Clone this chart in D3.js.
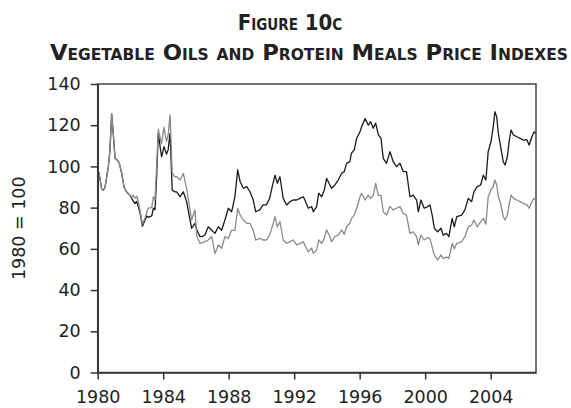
<!DOCTYPE html>
<meta charset="utf-8">
<style>
body { margin: 0; background: #fff; }
.axis text { font-family: "DejaVu Sans", sans-serif; font-size: 17.5px; fill: #222; }
.axis path, .axis line { stroke: #333; stroke-width: 1.5px; }
.title { font-family: "DejaVu Sans Condensed", "Liberation Sans Narrow", sans-serif; font-weight: bold; font-variant: small-caps; fill: #222; }
.line { fill: none; stroke-width: 1.3px; stroke-linejoin: round; }
</style>
<body>
<script src="https://cdn.jsdelivr.net/npm/d3@7/dist/d3.min.js"></script>
<script>

// data (decimal years)
var years = [1980.00, 1980.08, 1980.24, 1980.35, 1980.45, 1980.55, 1980.65, 1980.75, 1980.85, 1980.95,
  1981.06, 1981.20, 1981.32, 1981.47, 1981.61, 1981.77, 1981.97, 1982.08, 1982.18, 1982.28,
  1982.38, 1982.48, 1982.60, 1982.73, 1982.89, 1983.00, 1983.09, 1983.30, 1983.40, 1983.50,
  1983.60, 1983.70, 1983.90, 1984.05, 1984.20, 1984.30, 1984.42, 1984.55, 1984.70, 1984.82,
  1985.03, 1985.23, 1985.43, 1985.64, 1985.74, 1985.94, 1986.05, 1986.25, 1986.40, 1986.55,
  1986.75, 1986.96, 1987.16, 1987.37, 1987.57, 1987.77, 1987.98, 1988.18, 1988.38, 1988.55,
  1988.70, 1988.90, 1989.10, 1989.30, 1989.50, 1989.65, 1989.90, 1990.10, 1990.30, 1990.50,
  1990.66, 1990.83, 1990.97, 1991.13, 1991.33, 1991.54, 1991.74, 1991.94, 1992.15, 1992.35,
  1992.56, 1992.70, 1992.86, 1993.07, 1993.17, 1993.37, 1993.50, 1993.68, 1993.84, 1993.98,
  1994.18, 1994.28, 1994.49, 1994.69, 1994.90, 1995.06, 1995.20, 1995.40, 1995.50, 1995.67,
  1995.82, 1996.02, 1996.12, 1996.33, 1996.53, 1996.67, 1996.83, 1996.98, 1997.14, 1997.30,
  1997.44, 1997.64, 1997.85, 1998.05, 1998.25, 1998.46, 1998.66, 1998.86, 1999.07, 1999.27,
  1999.48, 1999.58, 1999.74, 1999.94, 2000.15, 2000.29, 2000.43, 2000.56, 2000.76, 2000.97,
  2001.10, 2001.30, 2001.45, 2001.65, 2001.78, 2001.93, 2002.23, 2002.43, 2002.63, 2002.84,
  2002.98, 2003.18, 2003.39, 2003.55, 2003.71, 2003.85, 2004.02, 2004.16, 2004.26, 2004.37,
  2004.47, 2004.61, 2004.77, 2004.88, 2005.02, 2005.14, 2005.25, 2005.39, 2005.60, 2005.80,
  2006.00, 2006.21, 2006.35, 2006.52, 2006.66, 2006.75];

var vegetableOils = [98, 97, 89, 88.5, 90, 95, 100, 108, 125.5, 116,
  104, 103, 101.5, 96.5, 90, 87.5, 86, 84.5, 83, 82,
  83, 80.5, 77, 71, 74, 76, 75.3, 76, 79.8, 79,
  95, 116, 104.7, 109.6, 106, 108, 116, 88.5, 87.7, 87.7,
  85.3, 87.7, 82.9, 74, 70, 72.4, 69.2, 65.9, 66, 66.7,
  70.7, 69, 67.5, 70.7, 69, 74, 79.7, 78, 85.3, 98.3,
  92.6, 89.4, 90.2, 87.7, 83.7, 78, 78.9, 81.3, 81.3, 84.5,
  90.2, 95.8, 91.8, 95, 84.5, 81.3, 82.9, 83.7, 83.7, 84.5,
  85.3, 82.9, 79.7, 80.5, 78, 80.5, 87, 85.3, 88.6, 94.2,
  91, 89.4, 91, 93.4, 96.7, 97.5, 101.5, 102.3, 106.4, 108,
  113.7, 116.8, 119.3, 123.3, 120, 121.7, 118.5, 121, 115.3, 113.7,
  103.9, 101.5, 107.2, 102.3, 99.9, 101.5, 97.5, 97.5, 85.3, 86.1,
  83.7, 78, 83.7, 79.7, 80.5, 81.3, 76.4, 70, 68.3, 70,
  66.7, 67.5, 65.9, 74.8, 70.7, 75.6, 76.4, 78.9, 84.5, 82.9,
  87.7, 90.2, 91, 95.8, 93.4, 107.2, 112, 119.3, 126.6, 124.1,
  116, 109.6, 102.3, 100.7, 104.7, 112.8, 117.7, 115.3, 114.4, 113.6,
  112.8, 113, 110.4, 114.4, 116.8, 116];

var proteinMeals = [98, 97, 89, 88.5, 90, 95, 100, 108, 125.5, 116,
  104, 103, 101.5, 96.5, 90, 87.5, 86, 85.3, 86, 84.5,
  85.5, 83, 78, 72, 75, 78, 79.8, 80, 85.3, 84,
  100, 118, 111, 119, 112, 115, 125, 97, 95, 95,
  93.4, 96.6, 89.4, 78.9, 74, 78.9, 66, 62.7, 63, 63.5,
  64.3, 66, 57.8, 61.9, 60.3, 65.9, 65.1, 69, 69, 79.7,
  76.4, 74, 72.4, 72.4, 69, 64.3, 65.1, 64.3, 64.3, 66.7,
  70.7, 75.6, 70.7, 73.2, 64.3, 62.7, 63.5, 64.3, 61.9, 62.5,
  63.5, 61, 58.6, 60.3, 57.8, 59.4, 64.3, 62.7, 65.1, 69.2,
  65.9, 63.5, 66, 66.7, 69.2, 67, 70.7, 72.4, 74.8, 76.4,
  79.7, 85.3, 87, 83.7, 86.1, 84.5, 86, 91.8, 86, 86,
  78, 76.4, 80.5, 78.9, 79.7, 80.5, 77.2, 76.4, 67.5, 68.3,
  65.9, 61.9, 66.7, 64.3, 65.5, 65, 61, 57, 54.6, 57,
  55.4, 56, 55.4, 62.7, 60, 62.7, 63.5, 65.9, 70.7, 71.6,
  74, 70.7, 73.2, 74.8, 72, 85.3, 88.6, 90.2, 93.4, 91,
  85.3, 82, 75.6, 74, 76.4, 82, 86.1, 84.5, 83.7, 82.9,
  82, 81.5, 79.7, 82.9, 84.5, 84];

var xTicks = [1980, 1984, 1988, 1992, 1996, 2000, 2004];
var yTicks = [0, 20, 40, 60, 80, 100, 120, 140];

var W = 571, H = 408;
var margin = {top: 84, right: 35, bottom: 35.5, left: 97.7},
    width = W - margin.left - margin.right,
    height = H - margin.top - margin.bottom;

var svg = d3.select("body").append("svg")
    .attr("width", W)
    .attr("height", H);

// titles
svg.append("text")
    .attr("class", "title")
    .attr("x", 290).attr("y", 30)
    .attr("text-anchor", "middle")
    .style("font-size", "22px")
    .text("Figure 10c");

svg.append("text")
    .attr("class", "title")
    .attr("x", 50).attr("y", 60)
    .attr("textLength", 518)
    .attr("lengthAdjust", "spacingAndGlyphs")
    .style("font-size", "22px")
    .text("Vegetable Oils and Protein Meals Price Indexes");

var g = svg.append("g")
    .attr("transform", "translate(" + margin.left + "," + margin.top + ")");

var x = d3.scaleLinear().domain([1980, 2006.77]).range([0, width]);
var y = d3.scaleLinear().domain([0, 140]).range([height, 0]);

// frame
g.append("rect")
    .attr("width", width).attr("height", height)
    .attr("fill", "none")
    .attr("stroke", "#444")
    .attr("stroke-width", 1.5);

var rows = years.map(function(t, i) {
  return {t: t, a: vegetableOils[i], b: proteinMeals[i]};
});

var lineA = d3.line().x(function(d) { return x(d.t); }).y(function(d) { return y(d.a); });
var lineB = d3.line().x(function(d) { return x(d.t); }).y(function(d) { return y(d.b); });

g.append("path").datum(rows).attr("class", "line").attr("stroke", "#1a1a1a").attr("d", lineA);
g.append("path").datum(rows).attr("class", "line").attr("stroke", "#8a8a8a").attr("d", lineB);

// axes
g.append("g")
    .attr("class", "axis")
    .attr("transform", "translate(0," + height + ")")
    .call(d3.axisBottom(x).tickValues(xTicks).tickFormat(d3.format("d")).tickSize(7).tickSizeOuter(0).tickPadding(11));

g.append("g")
    .attr("class", "axis")
    .call(d3.axisLeft(y).tickValues(yTicks).tickSize(7).tickSizeOuter(0).tickPadding(10));

svg.append("text")
    .attr("transform", "translate(25," + (margin.top + height / 2) + ") rotate(-90)")
    .attr("text-anchor", "middle")
    .style("font-family", "DejaVu Sans, sans-serif")
    .style("font-size", "17.5px")
    .style("fill", "#222")
    .text("1980 = 100");

</script>
</body>
